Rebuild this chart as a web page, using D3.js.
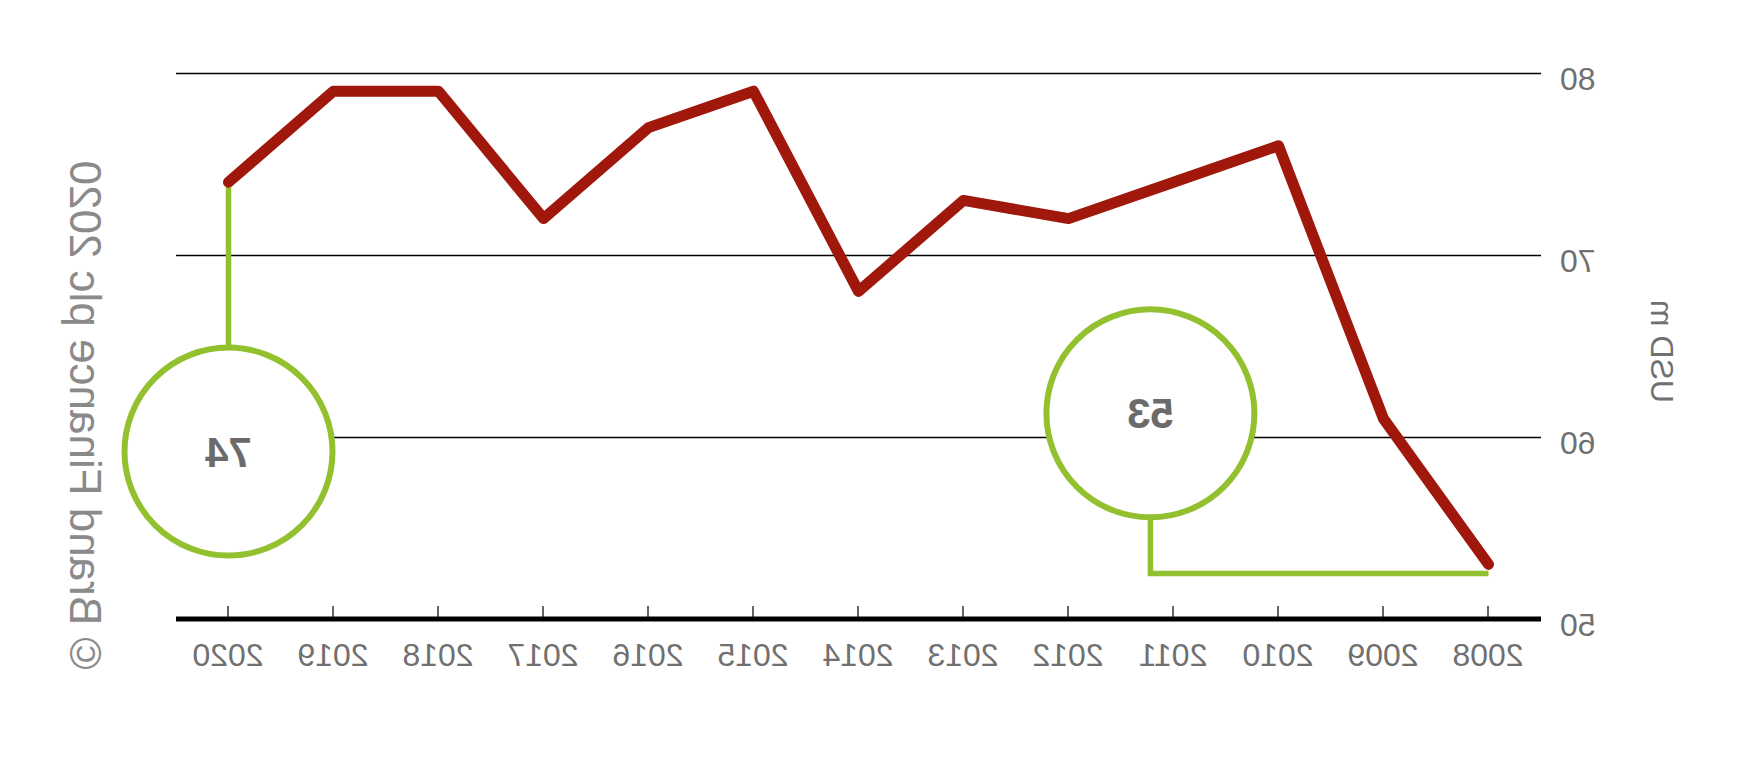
<!DOCTYPE html>
<html lang="en">
<head>
<meta charset="UTF-8">
<title>Brand value, USD m</title>
<script src="https://d3js.org/d3.v7.min.js"></script>
<style>
  body { margin: 0; background: #fff; }
  svg { display: block; }
  text { font-family: "Liberation Sans", Arial, sans-serif; }
  .axis .tick text { fill: #707070; font-size: 32px; }
  .axis .domain { display: none; }
</style>
</head>
<body>
<svg width="1753" height="770"></svg>
<script>
  const years = [2008, 2009, 2010, 2011, 2012, 2013, 2014, 2015, 2016, 2017, 2018, 2019, 2020];
  const values = [53, 61, 76, 74, 72, 73, 68, 79, 77, 72, 79, 79, 74];
  const yTicks = [50, 60, 70, 80];
  const unitLabel = "USD m";
  const credit = "© Brand Finance plc 2020";

  const W = 1753, H = 770;
  const plotL = 212, plotR = 1577, plotT = 73, plotB = 619;
  const green = "#93c02e", red = "#a0170c";

  const svg = d3.select("svg");
  // the reference is drawn mirrored left-to-right
  const g = svg.append("g").attr("transform", `translate(${W},0) scale(-1,1)`);

  const x = d3.scalePoint().domain(years).range([plotL, plotR]).padding(0.5);
  const y = d3.scaleLinear().domain([50, 80]).range([plotB, plotT]);

  // gridlines + y labels
  const yAxis = g.append("g")
    .attr("class", "axis")
    .attr("transform", `translate(${plotL},0)`)
    .call(d3.axisLeft(y).tickValues(yTicks).tickSize(-(plotR - plotL)).tickPadding(19));
  yAxis.selectAll(".tick line").attr("stroke", "#000").attr("stroke-width", 1.3);
  yAxis.selectAll(".tick text").attr("dy", "0.5em");

  // x axis: ticks pointing up, thick baseline
  const xAxis = g.append("g")
    .attr("class", "axis")
    .attr("transform", `translate(0,${plotB})`)
    .call(d3.axisBottom(x).tickSize(-13).tickPadding(24));
  xAxis.selectAll(".tick line").attr("stroke", "#666").attr("stroke-width", 2);

  g.append("line")
    .attr("x1", plotL).attr("x2", plotR)
    .attr("y1", plotB).attr("y2", plotB)
    .attr("stroke", "#000").attr("stroke-width", 5);

  g.append("text")
    .attr("transform", `translate(91,${y(64.7)}) rotate(-90)`)
    .attr("text-anchor", "middle")
    .attr("dy", "0.35em")
    .attr("fill", "#707070")
    .attr("font-size", 32)
    .text(unitLabel);

  g.append("text")
    .attr("transform", `translate(1668,${y(61.2)}) rotate(-90)`)
    .attr("text-anchor", "middle")
    .attr("dy", "0.35em")
    .attr("fill", "#8a8a8a")
    .attr("font-size", 44)
    .text(credit);

  // callouts for first and last values
  const n = years.length;
  const r = 104;
  const first = { year: years[0], value: values[0] };
  const last = { year: years[n - 1], value: values[n - 1] };

  const c1x = x(first.year) + 3.22 * x.step(), c1y = y(61.3), elbowY = y(52.5);
  g.append("path")
    .attr("d", `M${x(first.year)},${elbowY}H${c1x}V${c1y + r}`)
    .attr("fill", "none").attr("stroke", green).attr("stroke-width", 5.5);
  g.append("circle")
    .attr("cx", c1x).attr("cy", c1y).attr("r", r)
    .attr("fill", "#fff").attr("stroke", green).attr("stroke-width", 6);
  g.append("text")
    .attr("transform", `translate(${c1x},${c1y})`)
    .attr("dy", "0.36em")
    .attr("text-anchor", "middle")
    .attr("font-size", 42).attr("font-weight", "bold").attr("fill", "#6b6b6b")
    .text(first.value);

  const c2x = x(last.year), c2y = y(59.2);
  g.append("line")
    .attr("x1", c2x).attr("x2", c2x)
    .attr("y1", y(last.value)).attr("y2", c2y - r)
    .attr("stroke", green).attr("stroke-width", 5.5);
  g.append("circle")
    .attr("cx", c2x).attr("cy", c2y).attr("r", r)
    .attr("fill", "#fff").attr("stroke", green).attr("stroke-width", 6);
  g.append("text")
    .attr("transform", `translate(${c2x},${c2y})`)
    .attr("dy", "0.36em")
    .attr("text-anchor", "middle")
    .attr("font-size", 42).attr("font-weight", "bold").attr("fill", "#6b6b6b")
    .text(last.value);

  // value line
  const line = d3.line().x((d, i) => x(years[i])).y(d => y(d));
  g.append("path")
    .datum(values)
    .attr("d", line)
    .attr("fill", "none")
    .attr("stroke", red)
    .attr("stroke-width", 11)
    .attr("stroke-linejoin", "round")
    .attr("stroke-linecap", "round");
</script>
</body>
</html>
